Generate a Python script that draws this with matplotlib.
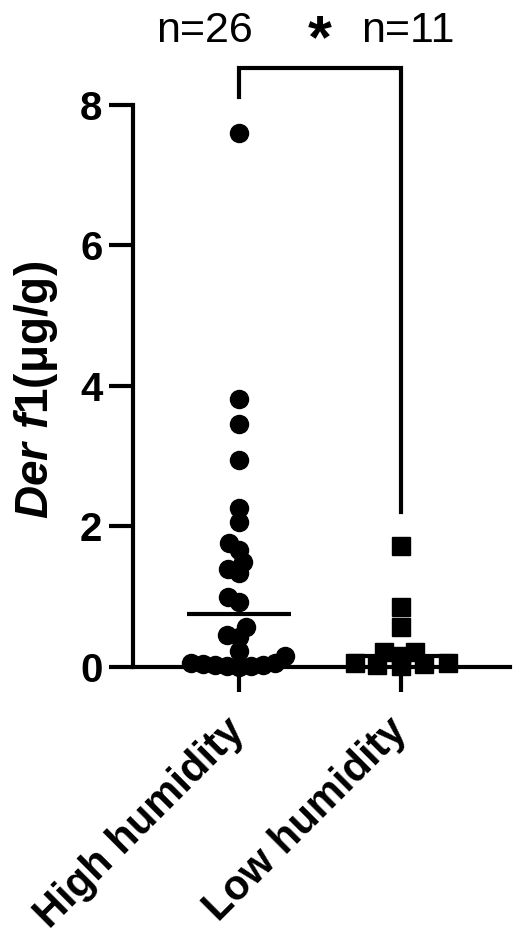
import numpy as np
import matplotlib
matplotlib.use("Agg")
import matplotlib.pyplot as plt

plt.rcParams['font.family'] = ['Liberation Sans', 'DejaVu Sans']
plt.rcParams['mathtext.fontset'] = 'custom'
plt.rcParams['mathtext.it'] = 'Liberation Sans:italic:bold'
plt.rcParams['mathtext.rm'] = 'Liberation Sans:bold'

# data
groups = ['High humidity', 'Low humidity']
high = [7.60, 3.82, 3.46, 2.94, 2.26, 2.07, 1.77, 1.67, 1.50, 1.40, 1.34,
        0.99, 0.93, 0.57, 0.45, 0.43, 0.23, 0.15, 0.06, 0.05, 0.04, 0.03,
        0.03, 0.02, 0.01, 0.00]
low = [1.72, 0.85, 0.57, 0.22, 0.21, 0.15, 0.06, 0.05, 0.04, 0.03, 0.02]
counts = ['n=26', 'n=11']
yticks = [0, 2, 4, 6, 8]


def swarm(ax, vals, center, wx, wy):
    # simple beeswarm in pixel space (elliptic collision wx by wy),
    # returns x positions in data units
    px = ax.transData.transform([(center, 0), (center + 1, 0)])
    xscale = px[1, 0] - px[0, 0]
    ys = ax.transData.transform([(center, v) for v in vals])[:, 1] * wx / wy
    order = np.argsort(vals)
    placed = []
    xs = np.zeros(len(vals))
    for i in order:
        y = ys[i]
        cands = [0.0]
        for (px_, py_) in placed:
            dy = abs(py_ - y)
            if dy < wx:
                dx = np.sqrt(wx ** 2 - dy ** 2)
                cands += [px_ + dx, px_ - dx]
        cands.sort(key=lambda c: (abs(c), c))
        for c in cands:
            if all((c - a) ** 2 + (y - b) ** 2 >= wx ** 2 - 1e-6 for a, b in placed):
                break
        placed.append((c, y))
        xs[i] = center + c / xscale
    return xs


fig = plt.figure(figsize=(5.18, 9.39), dpi=100)
ax = fig.add_axes([0.2568, 0.2897, 0.7278, 0.6733])
ax.set_xlim(-0.654, 1.673)
ax.set_ylim(0, 9)

for i, (vals, mk, ms, wx, wy) in enumerate([(high, 'o', 13, 12, 12),
                                            (low, 's', 12.5, 24, 6)]):
    xs = swarm(ax, vals, i, wx, wy)
    ax.plot(xs, vals, ls='none', marker=mk, ms=ms, color='black',
            mec='black', zorder=3, clip_on=False)
    med = np.median(vals)
    ax.plot([i - 0.32, i + 0.32], [med, med], color='black', lw=3, zorder=4,
            solid_capstyle='butt')

# significance bracket
ax.plot([0, 0, 1, 1], [8.11, 8.53, 8.53, 2.2], color='black', lw=3,
        clip_on=False, solid_joinstyle='miter')
ax.text(0.5, 8.9, '*', ha='center', va='center', fontsize=44,
        fontweight='bold', clip_on=False)
for i, t in enumerate(counts):
    ax.text(i - 0.21 if i == 0 else i + 0.04, 8.9, t, ha='center',
            va='baseline', fontsize=31)

for s in ['top', 'right']:
    ax.spines[s].set_visible(False)
ax.spines['left'].set_linewidth(3)
ax.spines['bottom'].set_linewidth(3)
ax.spines['left'].set_bounds(0, 8)
ax.set_yticks(yticks)
ax.set_yticklabels([str(t) for t in yticks], fontsize=29, fontweight='bold')
ax.set_xticks([0, 1])
ax.set_xticklabels(groups, fontsize=30, fontweight='bold', rotation=45,
                   ha='right', va='center', rotation_mode='anchor')
ax.tick_params(axis='y', length=17, width=3, pad=5)
ax.tick_params(axis='x', length=18, width=3, pad=24)

fig.text(36 / 518, 1 - 390 / 939, r'$\mathit{Der\ f1}$(μg/g)', rotation=90,
         ha='center', va='center', fontsize=33, fontweight='bold')

fig.savefig('out.png', dpi=100, facecolor='white')
